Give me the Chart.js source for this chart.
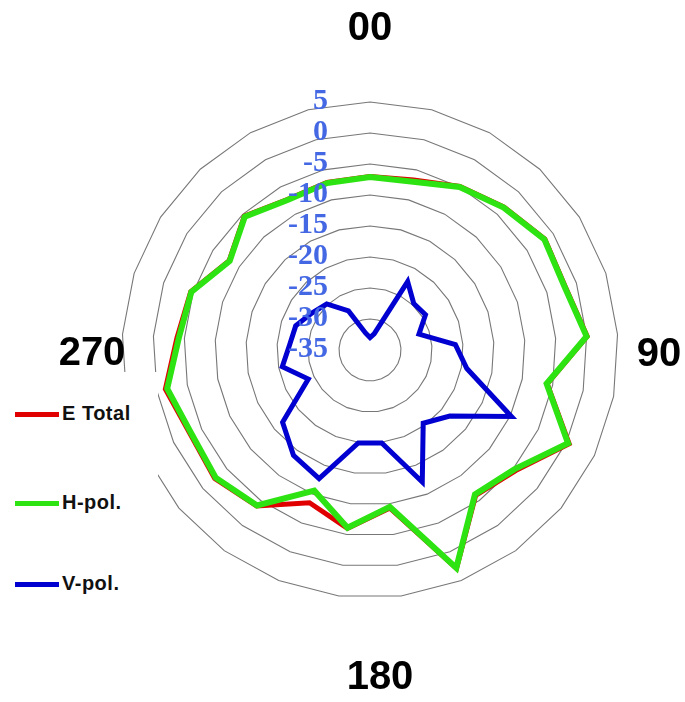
<!DOCTYPE html>
<html>
<head>
<meta charset="utf-8">
<script src="https://cdn.jsdelivr.net/npm/chart.js@4.4.1/dist/chart.umd.min.js"></script>
<style>
  body { margin: 0; background: #fff; }
  #wrap { position: relative; width: 685px; height: 702px; }
  #legend {
    position: absolute; left: 0; top: 372px; width: 158px; height: 240px;
    background: #fff; font-family: "Liberation Sans", Arial, sans-serif;
    font-weight: bold; font-size: 20px; color: #111;
  }
  .item { position: absolute; left: 15px; height: 24px; line-height: 24px; letter-spacing: 0.5px; }
  .item span.swatch { display: inline-block; width: 44px; height: 5px; vertical-align: middle; margin-right: 3px; }
</style>
</head>
<body>
<div id="wrap">
  <canvas id="polarChart" width="685" height="702"></canvas>
  <div id="legend"></div>
</div>
<script>
// angulos 0..360 cada 15 grados (Excel repite 0 como 360)
const angulos = ['0', '15', '30', '45', '60', '75', '90', '105', '120', '135', '150', '165', '180',
                 '195', '210', '225', '240', '255', '270', '285', '300', '315', '330', '345', '360'];

const eTotal = [-7.0, -6.7, -4.9, -3.4, -1.6, -1.9, 0.1, -5.9, 0.5, -4.5, -6.0, 2.9, -9.3,
                -6.0, -8.5, -3.9, -2.5, -3.0, -1.4, -3.8, -4.6, -8.1, -5.4, -7.3, -7.1];
const hPol   = [-7.1, -7.0, -5.0, -3.5, -1.7, -2.0, 0.0, -6.0, 0.3, -4.8, -6.2, 2.8, -9.5,
                -6.1, -10.6, -4.0, -2.7, -3.2, -1.7, -4.1, -4.7, -8.2, -5.5, -7.4, -7.2];
const vPol   = [-33.0, -32.3, -22.4, -24.7, -24.4, -26.7, -21.2, -19.1, -9.8, -18.3, -20.4, -12.1, -19.9,
                -19.9, -12.7, -14.0, -16.7, -24.0, -20.6, -22.0, -22.4, -23.9, -24.8, -27.8, -32.2];

const ticksDb = [5, 0, -5, -10, -15, -20, -25, -30, -35];
const cardinales = ['00', '90', '180', '270'];

const series = [
    { label: 'E Total', data: eTotal, color: '#e00000', width: 5, order: 2 },
    { label: 'H-pol.', data: hPol, color: '#2de312', width: 6, order: 1 },
    { label: 'V-pol.', data: vPol, color: '#0000d0', width: 5, order: 0 }
];

// Plugin para las etiquetas de escala (azules) y los rotulos 00/90/180/270
const etiquetasPlugin = {
    id: 'etiquetas',
    afterDatasetsDraw(chart) {
        const r = chart.scales.r;
        const ctx = chart.ctx;
        const cx = r.xCenter, cy = r.yCenter;
        ctx.save();
        ctx.fillStyle = '#4468e4';
        ctx.font = 'bold 30px "Liberation Serif", "Times New Roman", serif';
        ctx.textAlign = 'right';
        ctx.textBaseline = 'middle';
        ticksDb.forEach(v => {
            const d = r.getDistanceFromCenterForValue(v);
            ctx.fillText(String(v), cx - 42, cy - d - 1);
        });
        ctx.fillStyle = '#000';
        ctx.font = 'bold 40px "Liberation Sans", Arial, sans-serif';
        ctx.textAlign = 'center';
        const R = r.drawingArea;
        ctx.fillText(cardinales[0], cx, cy - R - 73);
        ctx.fillText(cardinales[1], cx + R + 41, cy + 5);
        ctx.fillText(cardinales[2], cx + 10, cy + R + 80);
        ctx.fillText(cardinales[3], cx - R - 30, cy + 4);
        ctx.restore();
    }
};

const ctx = document.getElementById('polarChart');
new Chart(ctx, {
    type: 'radar',
    data: {
        labels: angulos,
        datasets: series.map(s => ({
            label: s.label,
            data: s.data,
            borderColor: s.color,
            backgroundColor: s.color,
            borderWidth: s.width,
            pointRadius: 0,
            pointHoverRadius: 0,
            fill: false,
            tension: 0,
            order: s.order
        }))
    },
    options: {
        responsive: false,
        animation: false,
        layout: { padding: { left: 122, right: 67, top: 102, bottom: 104 } },
        scales: {
            r: {
                min: -35,
                max: 5,
                ticks: { stepSize: 5, display: false },
                grid: { color: '#777777', lineWidth: 1.1, circular: false },
                angleLines: { display: false },
                pointLabels: { display: false }
            }
        },
        plugins: {
            legend: { display: false },
            tooltip: { enabled: false }
        }
    },
    plugins: [etiquetasPlugin]
});

// Leyenda a la izquierda
const legend = document.getElementById('legend');
const tops = [29, 118, 199];
series.forEach((s, i) => {
    const div = document.createElement('div');
    div.className = 'item';
    div.style.top = tops[i] + 'px';
    div.innerHTML = '<span class="swatch" style="background:' + s.color + '"></span>' + s.label;
    legend.appendChild(div);
});
</script>
</body>
</html>
